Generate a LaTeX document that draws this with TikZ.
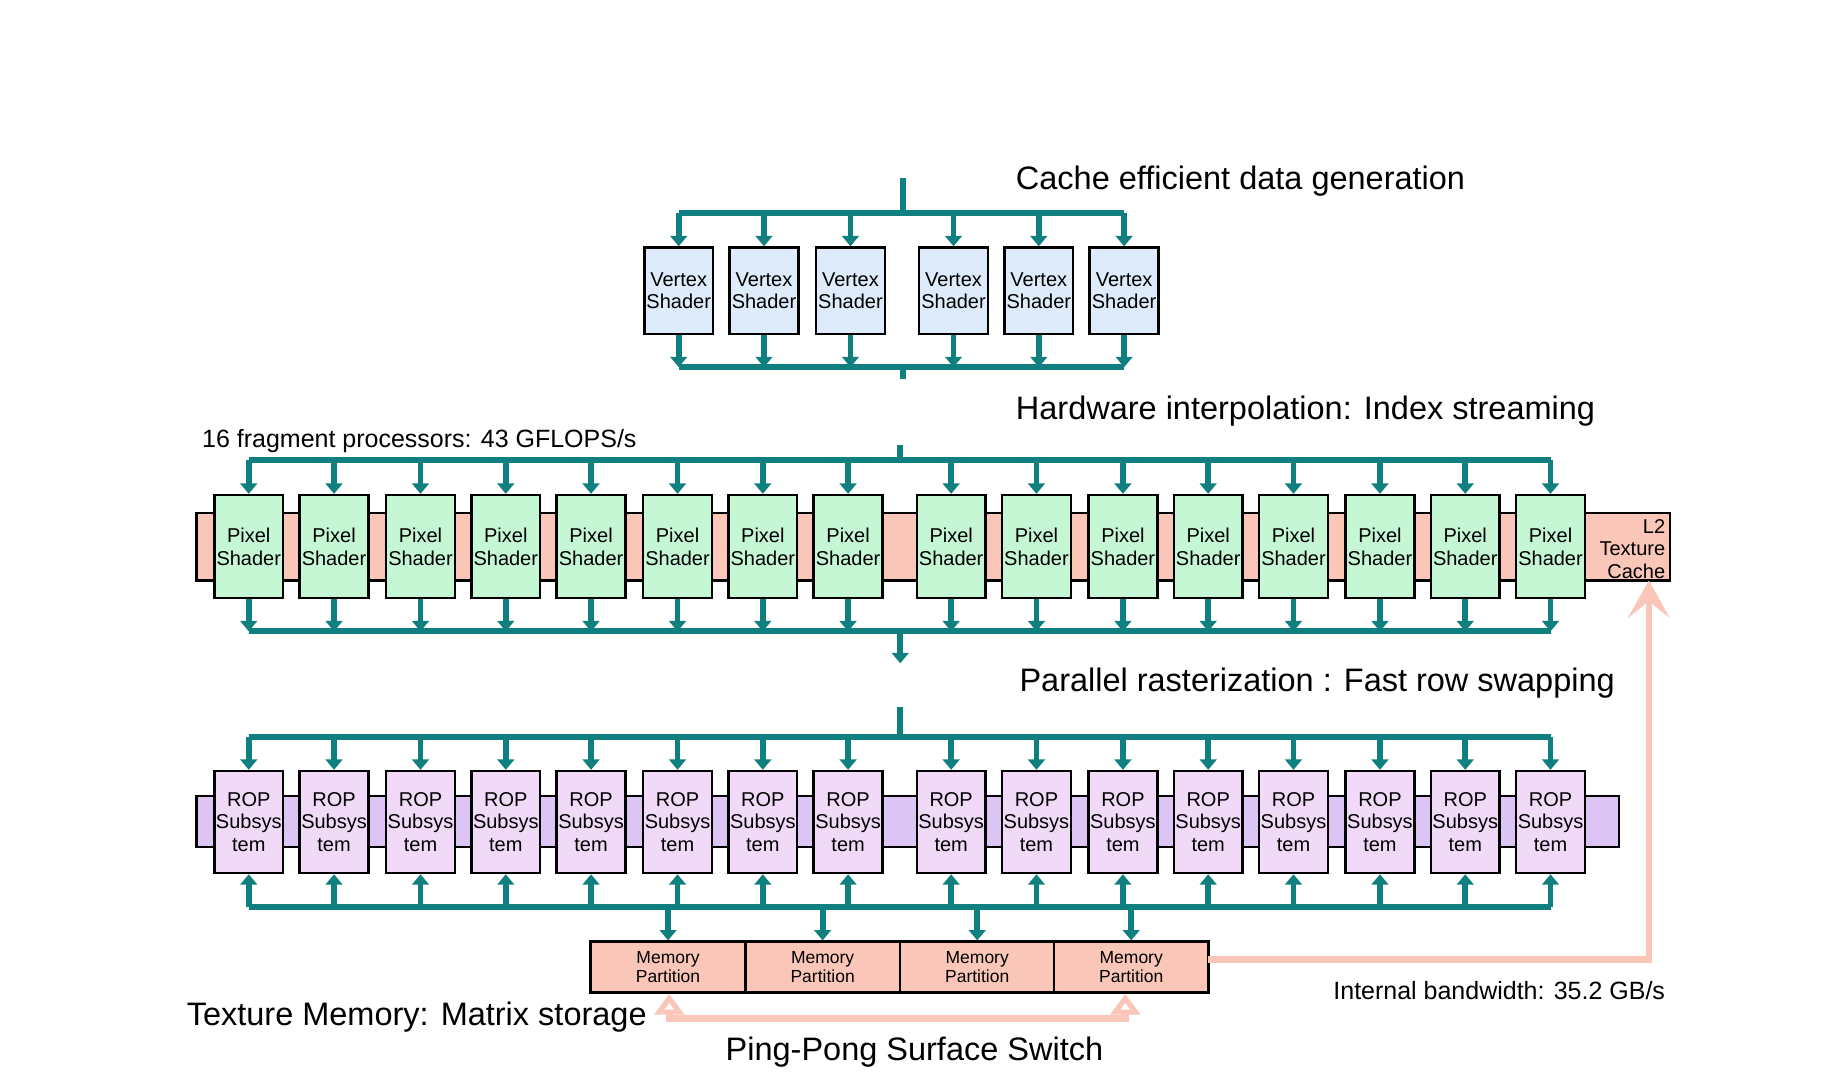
\documentclass[tikz,border=0pt]{standalone}
\usepackage{fontspec}
\setmainfont{Liberation Sans}
\usetikzlibrary{arrows.meta}
\definecolor{teal1}{HTML}{0F7F7F}
\definecolor{vfill}{HTML}{DDEBFA}
\definecolor{pfill}{HTML}{C5F7D5}
\definecolor{pink1}{HTML}{F9C6B8}
\definecolor{rfill}{HTML}{F0DAF8}
\definecolor{pstrip}{HTML}{DCC5F5}
\begin{document}
\begin{tikzpicture}[x=0.01cm,y=-0.01cm,
  box/.style={draw=black,line width=0.6pt,minimum width=0.58cm,inner sep=0pt,align=center,font=\fontsize{4.8}{5.4}\selectfont},
  vbox/.style={box,fill=vfill,minimum height=0.73cm},
  pbox/.style={box,fill=pfill,minimum height=0.87cm},
  rbox/.style={box,fill=rfill,minimum height=0.86cm},
  mbox/.style={draw=black,line width=0.6pt,fill=pink1,minimum width=1.305cm,minimum height=0.43cm,inner sep=0pt,align=center,font=\fontsize{4.2}{4.6}\selectfont},
  bus/.style={teal1,line width=1.4pt},
  arr/.style={teal1,line width=1.4pt,-{Triangle[length=2.5pt,width=4pt]}},
  title/.style={anchor=west,font=\fontsize{7.8}{9}\selectfont,inner sep=0pt},
  lbl/.style={anchor=west,font=\fontsize{6}{7}\selectfont,inner sep=0pt},
  pinkline/.style={pink1,line width=1.6pt}]
\useasboundingbox (0,0) rectangle (1550,918);
% ---- vertex shaders
\foreach \i/\x in {1/573,2/645,3/718,4/805,5/877,6/949}{
  \node[vbox] (v\i) at (\x,245.5) {Vertex\\Shader};
  \coordinate (vt\i) at (\x,180); \coordinate (vb\i) at (\x,310);
  \draw[arr] (vt\i) -- (v\i.north);
  \draw[arr] (v\i.south) -- (vb\i);
}
\draw[bus] (573,180) -- (949,180);
\draw[bus] (573,310) -- (949,310);
\coordinate (vin) at (762,150); \coordinate (vinb) at (762,180);
\draw[bus] (vin) -- (vinb);
\coordinate (vo) at (762,310); \coordinate (voe) at (762,320);
\draw[bus] (vo) -- (voe);
\node[title] (t1) at (857,153) {Cache efficient data generation};
% ---- pixel shaders
\draw[fill=pink1,line width=0.6pt] (166,433) rectangle (1410,490);
\node[inner sep=1pt,anchor=north east,align=right,font=\fontsize{4.8}{5.4}\selectfont] (l2) at (1410,434) {L2\\Texture\\Cache};
\coordinate (l2b) at (1392,490);
\foreach \i/\x in {1/210,2/282,3/355,4/427,5/499,6/572,7/644,8/716,9/803,10/875,11/948,12/1020,13/1092,14/1165,15/1237,16/1309}{
  \node[pbox] (p\i) at (\x,461.5) {Pixel\\Shader};
  \coordinate (pt\i) at (\x,388); \coordinate (pb\i) at (\x,533);
  \draw[arr] (pt\i) -- (p\i.north);
  \draw[arr] (p\i.south) -- (pb\i);
}
\draw[bus] (210,388) -- (1309,388);
\draw[bus] (210,533) -- (1309,533);
\coordinate (pin) at (760,376); \coordinate (pinb) at (760,388);
\draw[bus] (pin) -- (pinb);
\coordinate (po) at (760,533); \coordinate (poe) at (760,560);
\draw[arr] (po) -- (poe);
\node[title] (t2) at (857,347) {Hardware interpolation: Index streaming};
\node[lbl] (t3) at (170,372) {16 fragment processors: 43 GFLOPS/s};
% ---- ROP
\draw[fill=pstrip,line width=0.6pt] (166,672) rectangle (1367,715);
\foreach \i/\x in {1/210,2/282,3/355,4/427,5/499,6/572,7/644,8/716,9/803,10/875,11/948,12/1020,13/1092,14/1165,15/1237,16/1309}{
  \node[rbox] (r\i) at (\x,694) {ROP\\Subsys\\tem};
  \coordinate (rt\i) at (\x,622); \coordinate (rb\i) at (\x,766);
  \draw[arr] (rt\i) -- (r\i.north);
  \draw[arr] (rb\i) -- (r\i.south);
}
\draw[bus] (210,622) -- (1309,622);
\draw[bus] (210,766) -- (1309,766);
\coordinate (rin) at (760,597); \coordinate (rinb) at (760,622);
\draw[bus] (rin) -- (rinb);
\node[title] (t4) at (860,577) {Parallel rasterization : Fast row swapping};
% ---- memory partitions
\foreach \i/\x in {1/564,2/694.5,3/825,4/955}{
  \node[mbox] (m\i) at (\x,816.5) {Memory\\Partition};
  \coordinate (mt\i) at (\x,766);
  \draw[arr] (mt\i) -- (m\i.north);
}
\coordinate (ib1) at (1020,810); \coordinate (ib2) at (1392,810);
\draw[pinkline,-{Stealth[length=9pt,width=10pt,inset=4pt]}] (ib1) -- (ib2) -- (l2b);
\coordinate (pp1) at (565,860); \coordinate (pp2) at (950,860);
\draw[pinkline,{Triangle[open,length=5pt,width=7pt,fill=white]}-{Triangle[open,length=5pt,width=7pt,fill=white]}]
  (m1.south) ++(1,0) |- (pp2) -- (m4.south -| pp2);
\node[lbl,font=\fontsize{7.8}{9}\selectfont] (t5) at (157,859) {Texture Memory: Matrix storage};
\node[inner sep=0pt,font=\fontsize{7.8}{9}\selectfont] (t6) at (772,888) {Ping-Pong Surface Switch};
\node[lbl] (t7) at (1125,836) {Internal bandwidth: 35.2 GB/s};
\end{tikzpicture}
\end{document}
